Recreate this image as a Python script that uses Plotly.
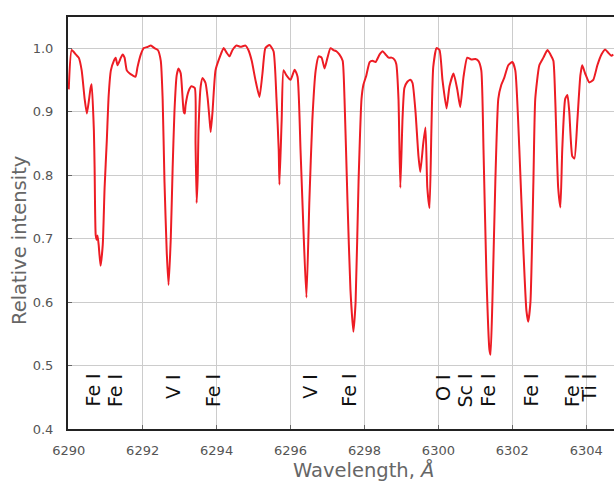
import plotly.graph_objects as go

wavelength = [
    6290.00, 6290.08, 6290.19, 6290.27, 6290.35, 6290.43, 6290.49, 6290.54, 6290.59, 6290.62,
    6290.68, 6290.70, 6290.73, 6290.76, 6290.78, 6290.81, 6290.86, 6290.92, 6290.97, 6291.03,
    6291.08, 6291.14, 6291.22, 6291.27, 6291.32, 6291.41, 6291.46, 6291.51, 6291.57, 6291.65,
    6291.73, 6291.81, 6291.86, 6291.95, 6292.03, 6292.14, 6292.22, 6292.32, 6292.41, 6292.49,
    6292.54, 6292.59, 6292.65, 6292.70, 6292.76, 6292.81, 6292.86, 6292.92, 6292.97, 6293.03,
    6293.11, 6293.14, 6293.16, 6293.24, 6293.32, 6293.41, 6293.43, 6293.46, 6293.49, 6293.51,
    6293.57, 6293.62, 6293.70, 6293.76, 6293.81, 6293.84, 6293.89, 6293.97, 6294.08, 6294.19,
    6294.27, 6294.35, 6294.43, 6294.54, 6294.65, 6294.78, 6294.86, 6294.95, 6295.05, 6295.16,
    6295.24, 6295.32, 6295.43, 6295.54, 6295.62, 6295.68, 6295.70, 6295.76, 6295.81, 6295.89,
    6296.00, 6296.11, 6296.19, 6296.27, 6296.35, 6296.43, 6296.51, 6296.59, 6296.68, 6296.76,
    6296.84, 6296.92, 6297.00, 6297.08, 6297.16, 6297.24, 6297.32, 6297.41, 6297.46, 6297.54,
    6297.62, 6297.70, 6297.76, 6297.84, 6297.92, 6297.97, 6298.05, 6298.14, 6298.22, 6298.30,
    6298.41, 6298.49, 6298.57, 6298.65, 6298.73, 6298.81, 6298.86, 6298.92, 6298.97, 6299.03,
    6299.08, 6299.16, 6299.24, 6299.30, 6299.38, 6299.46, 6299.51, 6299.59, 6299.65, 6299.70,
    6299.76, 6299.81, 6299.86, 6299.95, 6300.03, 6300.11, 6300.22, 6300.30, 6300.41, 6300.51,
    6300.59, 6300.68, 6300.78, 6300.89, 6301.00, 6301.08, 6301.16, 6301.22, 6301.30, 6301.38,
    6301.41, 6301.46, 6301.54, 6301.62, 6301.70, 6301.78, 6301.89, 6302.00, 6302.08, 6302.19,
    6302.30, 6302.38, 6302.43, 6302.49, 6302.57, 6302.62, 6302.73, 6302.84, 6302.95, 6303.03,
    6303.11, 6303.16, 6303.24, 6303.30, 6303.35, 6303.43, 6303.49, 6303.54, 6303.62, 6303.68,
    6303.76, 6303.84, 6303.89, 6303.97, 6304.08, 6304.19, 6304.30, 6304.41, 6304.51, 6304.59,
    6304.68, 6304.73,
]

intensity = [
    0.935, 0.997, 0.990, 0.985, 0.965, 0.920, 0.897, 0.915, 0.937, 0.943,
    0.870, 0.810, 0.705, 0.698, 0.705, 0.690, 0.657, 0.690, 0.780, 0.855,
    0.925, 0.965, 0.980, 0.985, 0.973, 0.985, 0.990, 0.985, 0.965, 0.960,
    0.957, 0.955, 0.970, 0.990, 1.000, 1.002, 1.004, 1.000, 0.997, 0.980,
    0.920, 0.790, 0.680, 0.627, 0.700, 0.810, 0.900, 0.957, 0.968, 0.960,
    0.900, 0.897, 0.910, 0.932, 0.940, 0.937, 0.850, 0.756, 0.800, 0.870,
    0.940, 0.953, 0.945, 0.920, 0.887, 0.868, 0.900, 0.965, 0.985, 1.000,
    0.993, 0.987, 0.997, 1.004, 1.002, 1.004, 0.997, 0.980, 0.950, 0.923,
    0.960, 1.000, 1.005, 0.995, 0.920, 0.840, 0.785, 0.887, 0.965, 0.957,
    0.950, 0.966, 0.955, 0.840, 0.713, 0.607, 0.760, 0.887, 0.965, 0.987,
    0.985, 0.968, 0.985, 1.000, 0.997, 0.995, 0.990, 0.980, 0.920, 0.760,
    0.620, 0.553, 0.600, 0.790, 0.920, 0.942, 0.957, 0.978, 0.980, 0.978,
    0.990, 0.995, 0.990, 0.985, 0.985, 0.982, 0.975, 0.920, 0.780, 0.890,
    0.937, 0.947, 0.950, 0.945, 0.900, 0.830, 0.805, 0.850, 0.875, 0.780,
    0.748, 0.870, 0.970, 1.000, 0.997, 0.950, 0.905, 0.940, 0.960, 0.935,
    0.907, 0.955, 0.985, 0.982, 0.983, 0.980, 0.965, 0.840, 0.640, 0.525,
    0.517, 0.600, 0.790, 0.920, 0.942, 0.953, 0.973, 0.978, 0.965, 0.840,
    0.680, 0.587, 0.569, 0.600, 0.790, 0.920, 0.973, 0.985, 0.997, 0.990,
    0.980, 0.920, 0.780, 0.749, 0.840, 0.920, 0.926, 0.900, 0.830, 0.826,
    0.887, 0.957, 0.973, 0.960, 0.946, 0.950, 0.973, 0.990, 0.998, 0.993,
    0.988, 0.990,
]

line_names = ["Fe I", "Fe I", "V I", "Fe I", "V I", "Fe I", "O I", "Sc I", "Fe I", "Fe I", "Fe I", "Ti I"]
line_positions = [6290.66, 6291.27, 6292.84, 6293.92, 6296.54, 6297.59, 6300.14, 6300.71, 6301.35, 6302.51, 6303.63, 6304.08]

x_ticks = [6290, 6292, 6294, 6296, 6298, 6300, 6302, 6304]
y_ticks = [0.4, 0.5, 0.6, 0.7, 0.8, 0.9, 1.0]
y_tick_labels = ["0.4", "0.5", "0.6", "0.7", "0.8", "0.9", "1.0"]

fig = go.Figure()
fig.add_trace(go.Scatter(
    x=wavelength, y=intensity, mode="lines",
    line=dict(color="#ed1c24", width=2, shape="spline", smoothing=0.5),
    showlegend=False, hoverinfo="skip",
))

for name, pos in zip(line_names, line_positions):
    fig.add_annotation(
        x=pos, y=0.49, xref="x", yref="y", text=name, textangle=-90,
        showarrow=False, xanchor="center", yanchor="top",
        font=dict(family="DejaVu Sans", size=19, color="#111111"),
    )

# plot area spans 546 x 412 px
fig.add_annotation(
    x=295 / 546, y=-41 / 412, xref="paper", yref="paper",
    yanchor="middle", xanchor="center",
    text="Wavelength, <i>Å</i>", showarrow=False,
    font=dict(family="DejaVu Sans", size=19.5, color="#666666"),
)
fig.add_annotation(
    x=-49 / 546, y=188 / 412, xref="paper", yref="paper",
    xanchor="center", yanchor="middle",
    text="Relative intensity", textangle=-90, showarrow=False,
    font=dict(family="DejaVu Sans", size=19.5, color="#666666"),
)

axis_common = dict(
    showgrid=True, gridcolor="#cccccc", gridwidth=1,
    ticks="inside", ticklen=4, tickcolor="#666666",
    showline=True, linecolor="#222222", linewidth=2,
    tickfont=dict(family="DejaVu Sans", size=13, color="#555555"),
    zeroline=False, automargin=False,
)

fig.update_layout(
    width=614, height=487,
    margin=dict(l=68, r=0, t=17, b=58),
    paper_bgcolor="white", plot_bgcolor="white",
    xaxis=dict(range=[6289.98, 6304.75], tickvals=x_ticks, mirror=True,
               ticklabelstandoff=8, **axis_common),
    yaxis=dict(range=[0.4, 1.049], tickvals=y_ticks, ticktext=y_tick_labels,
               ticklabelstandoff=10, **axis_common),
)

fig.write_html(
    "out.html",
    config={"displayModeBar": False},
    post_script="document.body.style.margin='0';document.body.style.overflow='hidden';",
)
